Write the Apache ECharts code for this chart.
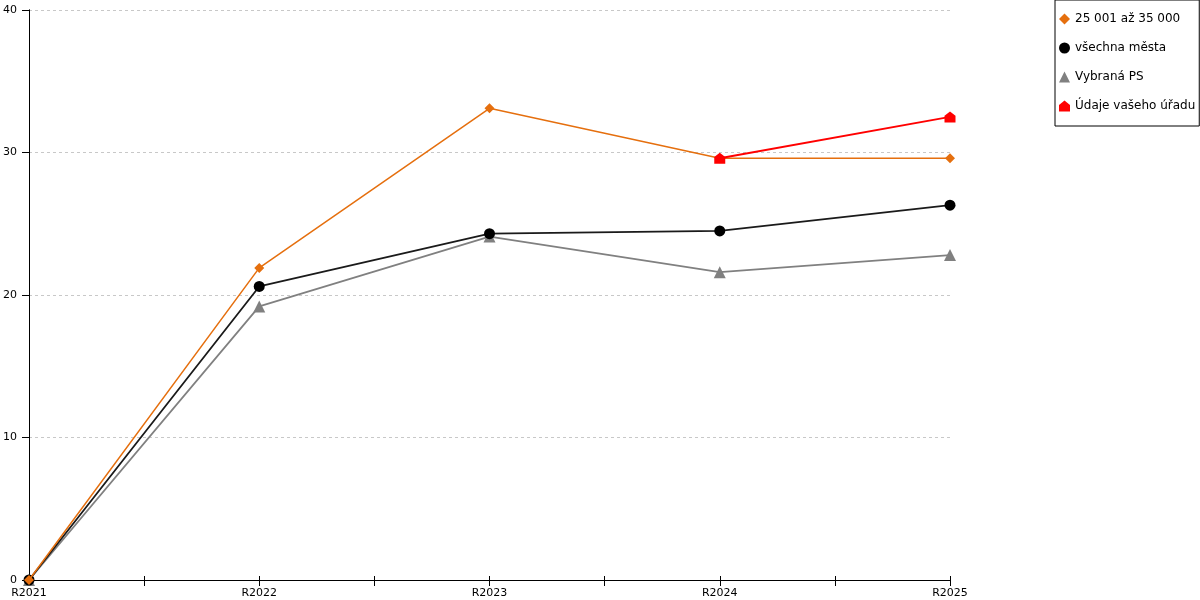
<!DOCTYPE html>
<html>
<head>
<meta charset="utf-8">
<script src="https://cdn.jsdelivr.net/npm/echarts@6/dist/echarts.min.js"></script>
<style>
  html, body { margin: 0; padding: 0; background: #fff; }
  #chart { width: 1200px; height: 600px; }
</style>
</head>
<body>
<div id="chart"></div>
<script>
// years on the x axis
const years = [ 'R2021', 'R2022', 'R2023', 'R2024', 'R2025' ];
// values
const sizeGroup = [ 0, 21.9, 33.1, 29.6, 29.6 ];
const allCities = [ 0, 20.6, 24.3, 24.5, 26.3 ];
const chosenPS = [ 0, 19.2, 24.1, 21.6, 22.8 ];
const yourOffice = [ null, null, null, 29.6, 32.5 ];
const yTicks = [ 0, 10, 20, 30, 40 ];

( function ()
{
  let myChart = echarts.init( document.getElementById( 'chart' ) );
  let font = 'DejaVu Sans';
  let house = 'path://M0,10 L0,4 L5,0 L10,4 L10,10 Z';

  function pairs ( arr )
  {
    return arr.map( function ( v, i ) { return [ i, v ]; } );
  }

  let option = {
    animation: false,
    textStyle: { fontFamily: font },
    grid: { left: 29, right: 250, top: 10, bottom: 20 },
    legend: {
      orient: 'vertical',
      left: 1055,
      top: 0,
      borderColor: '#000',
      borderWidth: 1,
      padding: [ 13, 4, 14, 4 ],
      itemGap: 17,
      itemWidth: 11,
      itemHeight: 11,
      textStyle: { fontFamily: font, fontSize: 12, color: '#000' },
      data: [
        { name: '25 001 až 35 000', icon: 'diamond' },
        { name: 'všechna města', icon: 'circle' },
        { name: 'Vybraná PS', icon: 'triangle' },
        { name: 'Údaje vašeho úřadu', icon: house }
      ]
    },
    xAxis: [
      {
        type: 'value',
        min: 0,
        max: years.length - 1,
        interval: 0.5,
        axisLine: { lineStyle: { color: '#000', width: 1 } },
        axisTick: { show: true, length: 6, lineStyle: { color: '#000' } },
        axisLabel: {
          color: '#000',
          fontSize: 11,
          fontFamily: font,
          margin: 8,
          showMaxLabel: true,
          formatter: function ( v )
          {
            return Number.isInteger( v ) ? years[ v ] : '';
          }
        },
        splitLine: { show: false }
      },
      {
        type: 'value',
        position: 'bottom',
        min: 0,
        max: years.length - 1,
        interval: 0.5,
        axisLine: { show: false },
        axisTick: { show: true, inside: true, length: 4, lineStyle: { color: '#000' } },
        axisLabel: { show: false },
        splitLine: { show: false }
      }
    ],
    yAxis: [
      {
        type: 'value',
        min: yTicks[ 0 ],
        max: yTicks[ yTicks.length - 1 ],
        interval: 10,
        axisLine: { show: true, lineStyle: { color: '#000' } },
        axisTick: { show: true, length: 7, lineStyle: { color: '#000' } },
        axisLabel: { color: '#000', fontSize: 11, fontFamily: font, margin: 12 },
        splitLine: { show: true, lineStyle: { color: '#c8c8c8', type: [ 3, 3 ] } }
      },
      {
        type: 'value',
        position: 'right',
        min: 0,
        max: 40,
        axisLine: { show: true, lineStyle: { color: '#000' } },
        axisTick: { show: false },
        axisLabel: { show: false },
        splitLine: { show: false }
      }
    ],
    series: [
      {
        name: '25 001 až 35 000',
        type: 'line',
        data: pairs( sizeGroup ),
        symbol: 'diamond',
        symbolSize: 10,
        color: '#e56f0e',
        lineStyle: { width: 1.5 },
        z: 3
      },
      {
        name: 'všechna města',
        type: 'line',
        data: pairs( allCities ),
        symbol: 'circle',
        symbolSize: 11,
        color: '#000',
        lineStyle: { width: 1.8, color: '#1a1a1a' },
        z: 2
      },
      {
        name: 'Vybraná PS',
        type: 'line',
        data: pairs( chosenPS ),
        symbol: 'triangle',
        symbolSize: 12,
        color: '#808080',
        lineStyle: { width: 1.8 },
        z: 1
      },
      {
        name: 'Údaje vašeho úřadu',
        type: 'line',
        data: pairs( yourOffice ),
        symbol: house,
        symbolSize: 11,
        color: '#ff0000',
        lineStyle: { width: 2 },
        z: 4
      }
    ]
  };
  myChart.setOption( option );
  window.addEventListener( 'resize', function ()
  {
    myChart.resize();
  } );
} )();
</script>
</body>
</html>
